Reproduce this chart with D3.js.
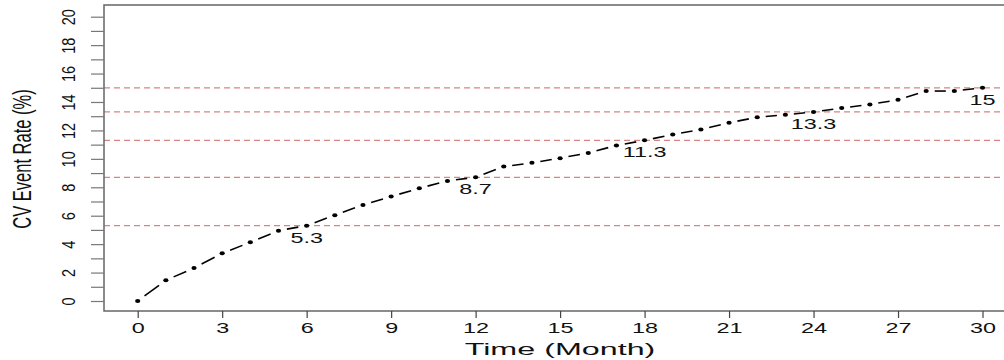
<!DOCTYPE html>
<html><head><meta charset="utf-8">
<script src="https://cdn.jsdelivr.net/npm/d3@7"></script>
<style>
html,body{margin:0;padding:0;background:#fff;}
text{font-family:"Liberation Sans",Arial,sans-serif;fill:#111;}
</style></head>
<body><svg id="c" width="1004" height="360"></svg>
<script>
// ---- data ----
const months = d3.range(0, 31);
const eventRate = [0, 1.46, 2.32, 3.36, 4.13, 4.95, 5.3, 6.04, 6.76, 7.35, 7.93, 8.45, 8.7,
  9.46, 9.72, 10.05, 10.42, 10.94, 11.3, 11.71, 12.07, 12.54, 12.93, 13.1, 13.3,
  13.57, 13.83, 14.15, 14.77, 14.77, 15.0];
const refMonths = [6, 12, 18, 24, 30];
const refValues = [5.3, 8.7, 11.3, 13.3, 15];
const refLabels = ["5.3", "8.7", "11.3", "13.3", "15"];
const xTicks = [0, 3, 6, 9, 12, 15, 18, 21, 24, 27, 30];
const yTicks = d3.range(0, 21);
const yTickLabels = yTicks.map(v => v % 2 === 0 ? String(v) : "");
const xTitle = "Time (Month)";
const yTitle = "CV Event Rate (%)";

// ---- layout ----
const svg = d3.select("#c");
const box = {l: 104, t: 5, r: 1012, b: 311};
const x = d3.scaleLinear().domain([0, 30]).range([137.7, 982.5]);
const y = d3.scaleLinear().domain([0, 20]).range([301, 16.7]);
const SX = 1.56; // horizontal stretch of horizontal text
const GAP = 8.5; // gap around points (type = "b")

// reference lines
svg.append("g").selectAll("line").data(refValues).join("line")
  .attr("x1", box.l).attr("x2", box.r)
  .attr("y1", d => y(d)).attr("y2", d => y(d))
  .attr("stroke", "#d98383").attr("stroke-width", 1.2)
  .attr("stroke-dasharray", "6,4");

// line segments with gaps around the points
const pts = months.map((m, i) => [m, eventRate[i]]);
const segs = d3.pairs(pts).map(([a, b]) => {
  const x1 = x(a[0]), y1 = y(a[1]), x2 = x(b[0]), y2 = y(b[1]);
  const L = Math.hypot(x2 - x1, y2 - y1), ux = (x2 - x1) / L, uy = (y2 - y1) / L;
  return [x1 + ux * GAP, y1 + uy * GAP, x2 - ux * GAP, y2 - uy * GAP];
});
svg.append("g").selectAll("line").data(segs).join("line")
  .attr("x1", d => d[0]).attr("y1", d => d[1]).attr("x2", d => d[2]).attr("y2", d => d[3])
  .attr("stroke", "#000").attr("stroke-width", 1.6);

// points
svg.append("g").selectAll("ellipse").data(pts).join("ellipse")
  .attr("cx", d => x(d[0])).attr("cy", d => y(d[1]))
  .attr("rx", 2.6).attr("ry", 2.0).attr("fill", "#000");

// value labels
svg.append("g").selectAll("text").data(refMonths).join("text")
  .attr("transform", (d, i) => `translate(${x(d)},${y(refValues[i]) + 17}) scale(${SX},1)`)
  .attr("text-anchor", "middle").attr("font-size", 15)
  .text((d, i) => refLabels[i]);

// box
svg.append("rect").attr("x", box.l).attr("y", box.t)
  .attr("width", box.r - box.l).attr("height", box.b - box.t)
  .attr("fill", "none").attr("stroke", "#666").attr("stroke-width", 1.5);

// x axis
const xg = svg.append("g").attr("transform", `translate(0,${box.b})`)
  .call(d3.axisBottom(x).tickValues(xTicks).tickSize(7).tickSizeOuter(0).tickFormat(d3.format("d")));
xg.select(".domain").remove();
xg.selectAll(".tick line").attr("stroke", "#444").attr("stroke-width", 1.2);
xg.selectAll(".tick text").attr("font-size", 15).attr("font-family", "Liberation Sans, Arial")
  .attr("fill", "#111").attr("y", 0).attr("dy", 0)
  .attr("transform", `translate(0,22) scale(${SX},1)`);

// y axis
const yg = svg.append("g").attr("transform", `translate(${box.l},0)`)
  .call(d3.axisLeft(y).tickValues(yTicks).tickSize(13).tickSizeOuter(0)
    .tickFormat((d, i) => yTickLabels[i]));
yg.select(".domain").remove();
yg.selectAll(".tick line").attr("stroke", "#777").attr("stroke-width", 1.2);
yg.selectAll(".tick text").attr("font-size", 14.5).attr("font-family", "Liberation Sans, Arial")
  .attr("fill", "#111").attr("x", 0).attr("dy", 0)
  .attr("text-anchor", "middle")
  .attr("transform", `translate(-29,0) scale(1.25,1) rotate(-90)`);

// titles
svg.append("text")
  .attr("transform", `translate(560,355) scale(1.9,1)`)
  .attr("text-anchor", "middle").attr("font-size", 17).text(xTitle);
svg.append("text")
  .attr("transform", `translate(31,159) scale(1.6,1) rotate(-90)`)
  .attr("text-anchor", "middle").attr("font-size", 16.5).text(yTitle);
</script></body></html>
